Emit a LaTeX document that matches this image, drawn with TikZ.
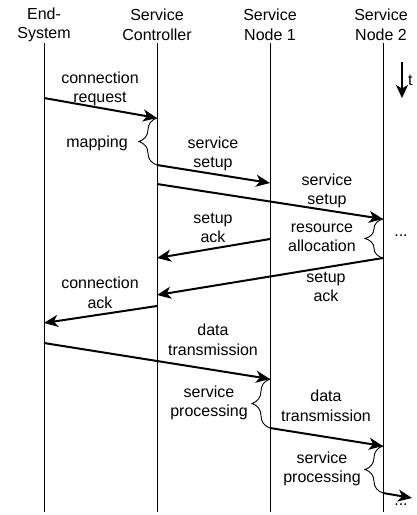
\documentclass[tikz,border=0pt]{standalone}
\usepackage{fontspec}
\setmainfont{Liberation Sans}
\usetikzlibrary{arrows.meta,decorations.pathreplacing}
\begin{document}
\begin{tikzpicture}[x=1pt,y=-1pt,
  lbl/.style={align=center,inner sep=0pt,font=\fontsize{16}{19.5}\selectfont},
  lifeline/.style={line width=0.9pt},
  msg/.style={line width=2pt,-{Stealth[length=14pt,width=12pt,inset=4pt]}},
  timearrow/.style={line width=1.6pt,-{Stealth[length=13pt,width=12pt,inset=3.5pt]}},
  curly/.style={line width=0.9pt,decorate,decoration={brace,amplitude=18pt,raise=0pt}}]
\useasboundingbox (0,0) rectangle (416,515);
% headers
\node[lbl] (es)  at (44,25)  {End-\\System};
\node[lbl] (sc)  at (157,25) {Service\\Controller};
\node[lbl] (sn1) at (270,25) {Service\\Node 1};
\node[lbl] (sn2) at (381,25) {Service\\Node 2};
% lifelines
\coordinate (es-t) at (44,43);   \coordinate (es-b) at (44,512);
\coordinate (sc-t) at (157,43);  \coordinate (sc-b) at (157,512);
\coordinate (n1-t) at (270,43);  \coordinate (n1-b) at (270,512);
\coordinate (n2-t) at (383,43);  \coordinate (n2-b) at (383,512);
\draw[lifeline] (es-t) -- (es-b);
\draw[lifeline] (sc-t) -- (sc-b);
\draw[lifeline] (n1-t) -- (n1-b);
\draw[lifeline] (n2-t) -- (n2-b);
% time arrow
\coordinate (t1) at (402,62); \coordinate (t2) at (402,98);
\draw[timearrow] (t1) -- (t2);
\node[lbl,anchor=west] (tl) at (408,80) {t};
% message end points
\coordinate (m1a) at (44,98);   \coordinate (m1b) at (157,118);
\coordinate (m2a) at (157,165); \coordinate (m2b) at (270,183);
\coordinate (m3a) at (157,184); \coordinate (m3b) at (383,219);
\coordinate (m4a) at (270,239); \coordinate (m4b) at (157,258);
\coordinate (m5a) at (383,258); \coordinate (m5b) at (157,295);
\coordinate (m6a) at (157,306); \coordinate (m6b) at (44,323);
\coordinate (m7a) at (44,343);  \coordinate (m7b) at (270,379);
\coordinate (m8a) at (270,428); \coordinate (m8b) at (383,446);
\coordinate (m9a) at (383,493); \coordinate (m9b) at (412,498);
% messages
\draw[msg] (m1a) -- (m1b);
\draw[msg] (m2a) -- (m2b);
\draw[msg] (m3a) -- (m3b);
\draw[msg] (m4a) -- (m4b);
\draw[msg] (m5a) -- (m5b);
\draw[msg] (m6a) -- (m6b);
\draw[msg] (m7a) -- (m7b);
\draw[msg] (m8a) -- (m8b);
\draw[msg] (m9a) -- (m9b);
% braces
\draw[curly] (m2a) -- (m1b);
\draw[curly] (m5a) -- (m3b);
\draw[curly] (m8a) -- (m7b);
\draw[curly] (m9a) -- (m8b);
% labels
\node[lbl] (l1) at (100,89)  {connection\\request};
\node[lbl] (l2) at (97,143)  {mapping};
\node[lbl] (l3) at (213,154) {service\\setup};
\node[lbl] (l4) at (327,191) {service\\setup};
\node[lbl] (l5) at (213,228) {setup\\ack};
\node[lbl] (l6) at (322,238) {resource\\allocation};
\node[lbl] (d1) at (401,236) {...};
\node[lbl] (l7) at (326,287) {setup\\ack};
\node[lbl] (l8) at (100,293) {connection\\ack};
\node[lbl] (l9) at (213,340) {data\\transmission};
\node[lbl] (l10) at (209,403) {service\\processing};
\node[lbl] (l11) at (326,406) {data\\transmission};
\node[lbl] (l12) at (322,469) {service\\processing};
\node[lbl] (d2) at (401,505) {...};
\end{tikzpicture}
\end{document}
